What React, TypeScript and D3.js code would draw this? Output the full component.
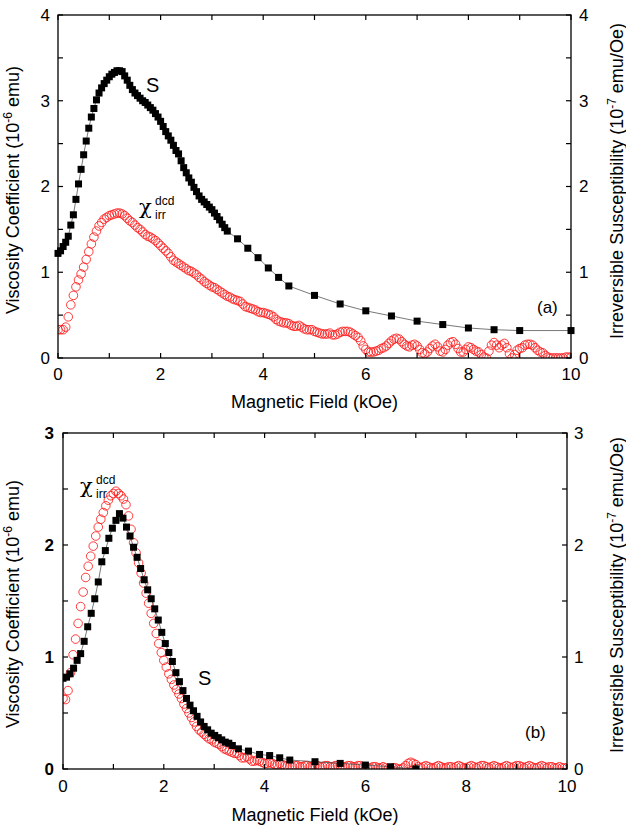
import React from 'react';
import * as d3 from 'd3';

// ---------- data ----------
const fieldTicks = [0, 1, 2, 3, 4, 5, 6, 7, 8, 9, 10];
const fieldLabels = [0, 2, 4, 6, 8, 10];
const topYTicks = [0, 0.5, 1, 1.5, 2, 2.5, 3, 3.5, 4];
const topYLabels = [0, 1, 2, 3, 4];
const botYTicks = [0, 0.5, 1, 1.5, 2, 2.5, 3];
const botYLabels = [0, 1, 2, 3];

// (a) viscosity coefficient S
const topSField = [0, 0.05, 0.1, 0.15, 0.2, 0.25, 0.3, 0.35, 0.4, 0.45, 0.5, 0.55, 0.6, 0.65, 0.7, 0.75, 0.8, 0.85, 0.9, 0.95,
  1, 1.05, 1.1, 1.15, 1.2, 1.25, 1.3, 1.35, 1.4, 1.45, 1.5, 1.55, 1.6, 1.65, 1.7, 1.75, 1.8, 1.85, 1.9, 1.95,
  2, 2.05, 2.1, 2.15, 2.2, 2.25, 2.3, 2.35, 2.4, 2.45, 2.5, 2.55, 2.6, 2.65, 2.7, 2.75, 2.8, 2.85, 2.9, 2.95,
  3, 3.05, 3.1, 3.15, 3.2, 3.25, 3.3, 3.5, 3.7, 3.9, 4.1, 4.3, 4.5, 5, 5.5, 6, 6.5, 7, 7.5, 8, 8.5, 9, 10];
const topSValue = [1.22, 1.25, 1.30, 1.35, 1.42, 1.55, 1.67, 1.85, 2.03, 2.20,
  2.37, 2.53, 2.68, 2.81, 2.91, 3.01, 3.09, 3.15, 3.20, 3.24,
  3.28, 3.31, 3.33, 3.35, 3.35, 3.34, 3.29, 3.24, 3.18, 3.13,
  3.09, 3.06, 3.03, 3.00, 2.98, 2.95, 2.92, 2.89, 2.85, 2.81,
  2.76, 2.70, 2.64, 2.59, 2.54, 2.48, 2.42, 2.38, 2.30, 2.22,
  2.16, 2.10, 2.05, 1.99, 1.94, 1.89, 1.85, 1.82, 1.79, 1.76,
  1.73, 1.69, 1.65, 1.61, 1.56, 1.52, 1.48,
  1.39, 1.28, 1.17, 1.05, 0.94, 0.84, 0.73, 0.63, 0.55, 0.49, 0.43, 0.39, 0.35, 0.33, 0.32, 0.32];

// (a) irreversible susceptibility, sampled every 0.05 kOe from 0 to 10
const chiFieldStep = 0.05;
const topChiValue = [
  0.33, 0.33, 0.33, 0.36, 0.48, 0.62, 0.73, 0.83, 0.91, 0.98,
  1.06, 1.15, 1.24, 1.33, 1.41, 1.48, 1.54, 1.58, 1.62, 1.64,
  1.66, 1.67, 1.68, 1.69, 1.69, 1.68, 1.66, 1.63, 1.60, 1.58,
  1.55, 1.52, 1.50, 1.47, 1.44, 1.42, 1.41, 1.39, 1.37, 1.34,
  1.31, 1.28, 1.25, 1.22, 1.18, 1.14, 1.12, 1.10, 1.08, 1.06,
  1.04, 1.02, 1.01, 0.99, 0.97, 0.94, 0.92, 0.89, 0.87, 0.85,
  0.83, 0.82, 0.80, 0.78, 0.76, 0.74, 0.72, 0.71, 0.69, 0.68,
  0.67, 0.66, 0.63, 0.60, 0.59, 0.58, 0.57, 0.56, 0.54, 0.53,
  0.53, 0.52, 0.51, 0.50, 0.48, 0.45, 0.43, 0.42, 0.41, 0.41,
  0.40, 0.38, 0.37, 0.37, 0.38, 0.36, 0.34, 0.33, 0.33, 0.33,
  0.31, 0.30, 0.29, 0.28, 0.28, 0.28, 0.29, 0.27, 0.27, 0.28,
  0.30, 0.31, 0.31, 0.31, 0.30, 0.28, 0.26, 0.24, 0.20, 0.14,
  0.10, 0.07, 0.07, 0.07, 0.08, 0.09, 0.11, 0.12, 0.14, 0.17,
  0.20, 0.22, 0.23, 0.22, 0.19, 0.16, 0.14, 0.13, 0.15, 0.16,
  0.14, 0.10, 0.06, 0.05, 0.07, 0.11, 0.14, 0.16, 0.13, 0.08,
  0.07, 0.10, 0.15, 0.18, 0.19, 0.16, 0.11, 0.07, 0.07, 0.10,
  0.13, 0.12, 0.10, 0.08, 0.07, 0.04, 0.01, 0.00, 0.08, 0.15,
  0.18, 0.15, 0.12, 0.15, 0.17, 0.12, 0.05, 0.00, 0.04, 0.09,
  0.11, 0.12, 0.15, 0.16, 0.16, 0.15, 0.12, 0.09, 0.07, 0.06,
  0.03, 0.01, 0.00, 0.00, 0.00, 0.00, 0.00, 0.00, 0.01, 0.01,
  0.01];

// (b) viscosity coefficient S
const botSField = [0, 0.07, 0.14, 0.21, 0.28, 0.35, 0.42, 0.49, 0.56, 0.63,
  0.70, 0.77, 0.84, 0.91, 0.98, 1.05, 1.12, 1.19, 1.26, 1.33,
  1.40, 1.47, 1.54, 1.61, 1.68, 1.75, 1.82, 1.89, 1.96, 2.03,
  2.10, 2.17, 2.24, 2.31, 2.38, 2.45, 2.52, 2.59, 2.66, 2.73,
  2.80, 2.87, 2.94, 3.01, 3.08, 3.15, 3.22, 3.29, 3.36,
  3.48, 3.68, 3.90, 4.10, 4.30, 4.50, 5.0, 5.5, 6.0, 6.5, 7.0];
const botSValue = [0.81, 0.82, 0.85, 0.90, 0.97, 1.03, 1.14, 1.27, 1.39, 1.52,
  1.67, 1.85, 1.95, 2.06, 2.15, 2.22, 2.28, 2.24, 2.16, 2.08,
  1.98, 1.89, 1.79, 1.69, 1.60, 1.52, 1.43, 1.33, 1.22, 1.12,
  1.04, 0.96, 0.86, 0.78, 0.70, 0.63, 0.57, 0.52, 0.47, 0.42,
  0.38, 0.35, 0.32, 0.30, 0.28, 0.26, 0.24, 0.23, 0.21,
  0.18, 0.16, 0.13, 0.12, 0.10, 0.08, 0.065, 0.05, 0.035, 0.02, 0.0];

// (b) irreversible susceptibility, sampled every 0.05 kOe from 0 to 10
const botChiValue = [
  0.63, 0.62, 0.70, 0.86, 1.02, 1.16, 1.30, 1.45, 1.58, 1.71,
  1.81, 1.90, 1.99, 2.08, 2.16, 2.23, 2.29, 2.35, 2.40, 2.44,
  2.46, 2.48, 2.46, 2.44, 2.41, 2.36, 2.26, 2.14, 2.02, 1.93,
  1.84, 1.75, 1.66, 1.57, 1.48, 1.39, 1.30, 1.21, 1.12, 1.04,
  0.97, 0.91, 0.85, 0.80, 0.75, 0.71, 0.67, 0.63, 0.58, 0.54,
  0.50, 0.46, 0.42, 0.38, 0.35, 0.33, 0.31, 0.29, 0.27, 0.26,
  0.24, 0.23, 0.22, 0.20, 0.18, 0.17, 0.16, 0.15, 0.14, 0.14,
  0.12, 0.10, 0.10, 0.11, 0.09, 0.07, 0.07, 0.08, 0.07, 0.06,
  0.05, 0.05, 0.06, 0.05, 0.04, 0.04, 0.05, 0.04, 0.03, 0.03,
  0.03, 0.02, 0.03, 0.03, 0.02, 0.02, 0.03, 0.03, 0.02, 0.02,
  0.03, 0.03, 0.02, 0.02, 0.03, 0.03, 0.02, 0.02, 0.03, 0.03,
  0.03, 0.02, 0.02, 0.03, 0.03, 0.02, 0.02, 0.03, 0.03, 0.02,
  0.02, 0.01, 0.01, 0.02, 0.02, 0.01, 0.01, 0.02, 0.01, 0.00,
  0.00, 0.01, 0.01, 0.00, 0.00, 0.01, 0.03, 0.05, 0.06, 0.05,
  0.04, 0.02, 0.01, 0.02, 0.03, 0.02, 0.01, 0.01, 0.02, 0.03,
  0.02, 0.01, 0.01, 0.02, 0.02, 0.01, 0.02, 0.03, 0.02, 0.01,
  0.01, 0.02, 0.03, 0.02, 0.01, 0.02, 0.03, 0.03, 0.02, 0.01,
  0.02, 0.03, 0.02, 0.01, 0.01, 0.02, 0.03, 0.02, 0.01, 0.02,
  0.03, 0.03, 0.02, 0.01, 0.02, 0.03, 0.02, 0.01, 0.01, 0.02,
  0.03, 0.02, 0.01, 0.02, 0.02, 0.01, 0.01, 0.02, 0.01, 0.01,
  0.01];

const FONT = '"Liberation Sans", Arial, Helvetica, sans-serif';
const GREEK = '"DejaVu Serif", "DejaVu Sans", serif';

type PanelProps = {
  id: string;
  left: number; right: number; top: number; bottom: number;
  yMax: number; yTicks: number[]; yLabels: number[]; boldLeft: boolean;
  sField: number[]; sValue: number[]; chiValue: number[];
  clipS: boolean;
  leftLabelX: number; rightLabelX: number;
  titleLeftY: number; titleRightY: number; xTitleY: number; tickLabelY: number;
  sLabel: [number, number]; chiLabel: [number, number]; panelLabel: string; panelLabelPos: [number, number];
};

function Panel(p: PanelProps) {
  const x = d3.scaleLinear().domain([0, 10]).range([p.left, p.right]);
  const y = d3.scaleLinear().domain([0, p.yMax]).range([p.bottom, p.top]);
  const sPts = p.sField.map((f, i) => [f, p.sValue[i]] as [number, number]);
  const chiPts = p.chiValue.map((v, i) => [i * chiFieldStep, v] as [number, number]);
  const line = d3.line<[number, number]>().x(d => x(d[0])).y(d => y(d[1]));
  const tk = 5;
  const sq = 7;
  const midX = (p.left + p.right) / 2;
  const [cx, cy] = p.chiLabel;
  return (
    <g>
      <defs>
        <clipPath id={p.id}>
          <rect x={p.left} y={p.top} width={p.right - p.left} height={p.bottom - p.top} />
        </clipPath>
      </defs>
      {/* chi circles */}
      <g clipPath={`url(#${p.id})`}>
        {chiPts.map((d, i) => (
          <circle key={i} cx={x(d[0])} cy={y(d[1])} r={4.3} fill="none" stroke="#ff1a1a" strokeWidth={0.85} />
        ))}
      </g>
      {/* S line + squares */}
      <g clipPath={p.clipS ? `url(#${p.id})` : undefined}>
        <path d={line(sPts) || ''} fill="none" stroke="#555" strokeWidth={0.8} />
        {sPts.map((d, i) => (
          <rect key={i} x={x(d[0]) - sq / 2} y={y(d[1]) - sq / 2} width={sq} height={sq} fill="#000" />
        ))}
      </g>
      {/* frame */}
      <rect x={p.left} y={p.top} width={p.right - p.left} height={p.bottom - p.top} fill="none" stroke="#000" strokeWidth={1.3} />
      {fieldTicks.map(t => (
        <g key={'xt' + t}>
          <line x1={x(t)} x2={x(t)} y1={p.bottom} y2={p.bottom - tk} stroke="#000" strokeWidth={1.2} />
          <line x1={x(t)} x2={x(t)} y1={p.top} y2={p.top + tk} stroke="#000" strokeWidth={1.2} />
        </g>
      ))}
      {p.yTicks.map(t => (
        <g key={'yt' + t}>
          <line x1={p.left} x2={p.left + tk} y1={y(t)} y2={y(t)} stroke="#000" strokeWidth={1.2} />
          <line x1={p.right} x2={p.right - tk} y1={y(t)} y2={y(t)} stroke="#000" strokeWidth={1.2} />
        </g>
      ))}
      {fieldLabels.map(t => (
        <text key={'xl' + t} x={x(t)} y={p.tickLabelY} textAnchor="middle" fontSize={17} fontFamily={FONT}>{t}</text>
      ))}
      {p.yLabels.map(t => (
        <g key={'yl' + t}>
          <text x={p.leftLabelX} y={y(t)} dy="0.35em" textAnchor="end" fontSize={17} fontFamily={FONT}
            fontWeight={p.boldLeft ? 'bold' : 'normal'}>{t}</text>
          <text x={p.rightLabelX} y={y(t)} dy="0.35em" textAnchor="start" fontSize={17} fontFamily={FONT}>{t}</text>
        </g>
      ))}
      {/* axis titles */}
      <text x={midX} y={p.xTitleY} textAnchor="middle" fontSize={18} fontFamily={FONT}>Magnetic Field (kOe)</text>
      <text transform={`translate(19,${p.titleLeftY}) rotate(-90)`} textAnchor="middle" fontSize={18} fontFamily={FONT}>
        Viscosity Coefficient (10<tspan dy={-7} fontSize={12}>-6</tspan><tspan dy={7}> emu)</tspan>
      </text>
      <text transform={`translate(623,${p.titleRightY}) rotate(-90)`} textAnchor="middle" fontSize={18} fontFamily={FONT}>
        Irreversible Susceptibility (10<tspan dy={-7} fontSize={12}>-7</tspan><tspan dy={7}> emu/Oe)</tspan>
      </text>
      {/* annotations */}
      <text x={p.sLabel[0]} y={p.sLabel[1]} fontSize={20} fontFamily={FONT}>S</text>
      <text x={cx} y={cy} fontSize={21} fontFamily={GREEK}>χ</text>
      <text x={cx + 16} y={cy - 9} fontSize={12} fontFamily={FONT}>dcd</text>
      <text x={cx + 16} y={cy + 5} fontSize={12} fontFamily={FONT}>irr</text>
      <text x={p.panelLabelPos[0]} y={p.panelLabelPos[1]} fontSize={17} fontFamily={FONT}>{p.panelLabel}</text>
    </g>
  );
}

export default function App() {
  return (
    <svg width={626} height={830} viewBox="0 0 626 830"
      style={{ position: 'absolute', left: 0, top: 0, background: '#fff' }}>
      <rect x={0} y={0} width={626} height={830} fill="#fff" />
      <Panel id="clipA" left={58} right={571} top={15} bottom={358}
        yMax={4} yTicks={topYTicks} yLabels={topYLabels} boldLeft={false}
        sField={topSField} sValue={topSValue} chiValue={topChiValue} clipS={false}
        leftLabelX={50} rightLabelX={579}
        titleLeftY={190} titleRightY={181} xTitleY={408} tickLabelY={380}
        sLabel={[146, 92]} chiLabel={[139, 214]} panelLabel="(a)" panelLabelPos={[537, 313]} />
      <Panel id="clipB" left={63} right={567} top={433} bottom={769}
        yMax={3} yTicks={botYTicks} yLabels={botYLabels} boldLeft={true}
        sField={botSField} sValue={botSValue} chiValue={botChiValue} clipS={true}
        leftLabelX={54} rightLabelX={574}
        titleLeftY={604} titleRightY={595} xTitleY={821} tickLabelY={792}
        sLabel={[198, 685]} chiLabel={[80, 493]} panelLabel="(b)" panelLabelPos={[525, 738]} />
    </svg>
  );
}
